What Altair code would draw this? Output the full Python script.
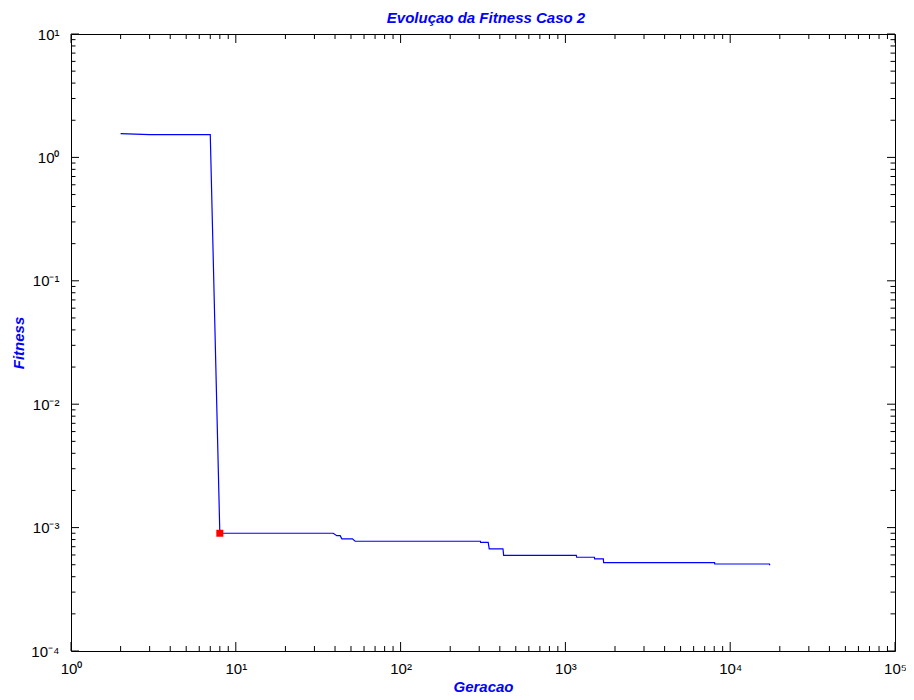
import math
import altair as alt
import pandas as pd

# ---- data ----
gen = [2, 3, 7, 8, 39, 41, 43, 44, 51, 53, 305, 306, 340, 345, 418, 422,
       1165, 1170, 1500, 1505, 1700, 1705, 8040, 8060, 17300, 17400]
fitness = [1.556, 1.527, 1.527, 9.0e-4, 9.0e-4, 8.6e-4, 8.6e-4, 8.1e-4, 8.1e-4,
           7.75e-4, 7.75e-4, 7.6e-4, 7.6e-4, 6.72e-4, 6.72e-4, 5.96e-4,
           5.96e-4, 5.75e-4, 5.75e-4, 5.57e-4, 5.57e-4, 5.2e-4, 5.2e-4,
           5.07e-4, 5.07e-4, 4.95e-4]
best_gen = [8]
best_fit = [9.0e-4]

title_text = ["Evoluçao da Fitness Caso 2"]
x_title = "Geracao"
y_title = "Fitness"

x_major = [1, 10, 100, 1000, 10000, 100000]
y_major = [1e-4, 1e-3, 1e-2, 1e-1, 1, 10]
x_minor = [k * 10 ** d for d in range(0, 5) for k in range(2, 10)]
y_minor = [k * 10.0 ** d for d in range(-4, 1) for k in range(2, 10)]

W, H = 824, 617
FONT = "Liberation Sans"
BLUE = "#0000ff"

sup = {"-": "⁻", "0": "⁰", "1": "¹", "2": "²", "3": "³", "4": "⁴", "5": "⁵"}


def label_expr(values):
    expr = "''"
    for v in reversed(values):
        e = int(round(math.log10(v)))
        s = "10" + "".join(sup[c] for c in str(e))
        expr = f"(abs(log(datum.value) - ({math.log(v):.6f})) < 0.01 ? '{s}' : {expr})"
    return expr


line_df = pd.DataFrame({"gen": gen, "fitness": fitness})
best_df = pd.DataFrame({"gen": best_gen, "fitness": best_fit})
title_df = pd.DataFrame({"t": title_text})
xmaj_df = pd.DataFrame({"v": x_major})
xmin_df = pd.DataFrame({"v": x_minor})
ymaj_df = pd.DataFrame({"v": y_major})
ymin_df = pd.DataFrame({"v": y_minor})

xscale = alt.Scale(type="log", domain=[1, 100000], nice=False)
yscale = alt.Scale(type="log", domain=[1e-4, 10], nice=False)

x_axis = alt.Axis(
    values=x_major, labelExpr=label_expr(x_major), ticks=False, tickSize=0,
    domain=False, grid=False, labelFont=FONT, labelFontSize=15,
    labelColor="black", labelPadding=10, labelBaseline="top", labelFlush=False,
    labelOverlap=False,
    title=x_title, titleFont=FONT, titleFontSize=15, titleFontWeight="bold",
    titleFontStyle="italic", titleColor=BLUE, titleX=W / 2, titleY=40,
    titleBaseline="alphabetic", titleAlign="center",
)
y_axis = alt.Axis(
    values=y_major, labelExpr=label_expr(y_major), ticks=False, tickSize=0,
    domain=False, grid=False, labelFont=FONT, labelFontSize=15,
    labelColor="black", labelPadding=12, labelBaseline="middle", labelFlush=False,
    labelOverlap=False,
    title=y_title, titleFont=FONT, titleFontSize=15, titleFontWeight="bold",
    titleFontStyle="italic", titleColor=BLUE, titleX=-53, titleY=H / 2,
    titleBaseline="middle", titleAlign="center", titleAngle=-90,
)

line = alt.Chart(line_df).mark_line(color=BLUE, strokeWidth=1.2).encode(
    x=alt.X("gen:Q", scale=xscale, axis=x_axis),
    y=alt.Y("fitness:Q", scale=yscale, axis=y_axis),
)

best = alt.Chart(best_df).mark_point(shape="square", filled=True, color="#ff0000",
                                     size=49, opacity=1).encode(
    x=alt.X("gen:Q", scale=xscale, axis=x_axis),
    y=alt.Y("fitness:Q", scale=yscale, axis=y_axis),
)

title = alt.Chart(title_df).mark_text(
    font=FONT, fontSize=15, fontWeight="bold", fontStyle="italic", color=BLUE,
    align="center", baseline="alphabetic",
).encode(text="t:N", x=alt.value(W / 2 + 3), y=alt.value(-11))


def xticks(df, length):
    base = alt.Chart(df).mark_rule(color="black", strokeWidth=1)
    bottom = base.encode(x=alt.X("v:Q", scale=xscale, axis=x_axis),
                         y=alt.value(H), y2=alt.value(H - length))
    top = base.encode(x=alt.X("v:Q", scale=xscale, axis=x_axis),
                      y=alt.value(0), y2=alt.value(length))
    return [bottom, top]


def yticks(df, length):
    base = alt.Chart(df).mark_rule(color="black", strokeWidth=1)
    left = base.encode(y=alt.Y("v:Q", scale=yscale, axis=y_axis),
                       x=alt.value(0), x2=alt.value(length))
    right = base.encode(y=alt.Y("v:Q", scale=yscale, axis=y_axis),
                        x=alt.value(W), x2=alt.value(W - length))
    return [left, right]


layers = (xticks(xmaj_df, 9) + xticks(xmin_df, 5) +
          yticks(ymaj_df, 8) + yticks(ymin_df, 4.5) + [line, best, title])

chart = alt.layer(*layers).properties(
    width=W, height=H,
    autosize=alt.AutoSizeParams(type="none"),
    padding={"left": 63, "top": 26, "right": 11, "bottom": 45},
    background="white",
).configure_view(stroke="black", strokeWidth=1)

chart.save("out.html", embed_options={"renderer": "svg", "actions": False})
